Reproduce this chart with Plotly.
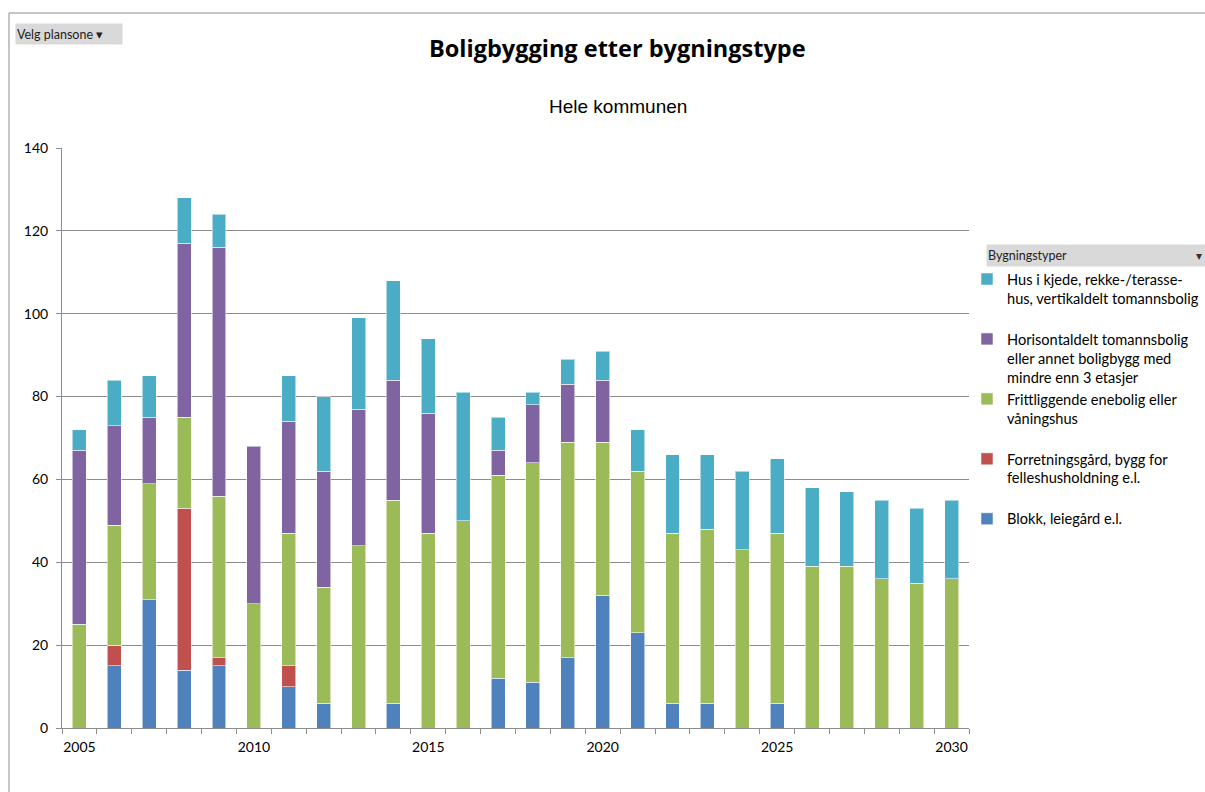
import plotly.graph_objects as go

# ---------------- data ----------------
years = list(range(2005, 2031))
blokk = [0, 15, 31, 14, 15, 0, 10, 6, 0, 6, 0, 0, 12, 11, 17, 32, 23, 6, 6, 0, 6, 0, 0, 0, 0, 0]
forretning = [0, 5, 0, 39, 2, 0, 5, 0, 0, 0, 0, 0, 0, 0, 0, 0, 0, 0, 0, 0, 0, 0, 0, 0, 0, 0]
frittliggende = [25, 29, 28, 22, 39, 30, 32, 28, 44, 49, 47, 50, 49, 53, 52, 37, 39, 41, 42, 43, 41, 39, 39, 36, 35, 36]
horisontal = [42, 24, 16, 42, 60, 38, 27, 28, 33, 29, 29, 0, 6, 14, 14, 15, 0, 0, 0, 0, 0, 0, 0, 0, 0, 0]
rekkehus = [5, 11, 10, 11, 8, 0, 11, 18, 22, 24, 18, 31, 8, 3, 6, 7, 10, 19, 18, 19, 18, 19, 18, 19, 18, 19]

series_names = [
    "Blokk, leiegård e.l.",
    "Forretningsgård, bygg for<br>felleshusholdning e.l.<br>\u00a0",
    "Frittliggende enebolig eller<br>våningshus<br>\u00a0",
    "Horisontaldelt tomannsbolig<br>eller annet boligbygg med<br>mindre enn 3 etasjer",
    "Hus i kjede, rekke-/terasse-<br>hus, vertikaldelt tomannsbolig<br>\u00a0",
]
series_values = [blokk, forretning, frittliggende, horisontal, rekkehus]
series_colors = ["#4F81BD", "#C0504D", "#9BBB59", "#8064A2", "#4BACC6"]
tick_years = [2005, 2010, 2015, 2020, 2025, 2030]

# ---------------- geometry helpers (pixel -> paper) ----------------
W, H = 1205, 792
L, R, T, B = 62, 969, 148, 728


def px(x):
    return (x - L) / (R - L)


def py(y):
    return (B - y) / (B - T)


FONT = "Lato"

fig = go.Figure()
for name, vals, col in zip(series_names, series_values, series_colors):
    fig.add_trace(go.Bar(
        x=years,
        y=[v if v else None for v in vals],
        name=name,
        marker=dict(color=col, line=dict(color="rgba(255,255,255,0.55)", width=1)),
    ))

fig.update_layout(
    width=W, height=H, autosize=False,
    margin=dict(l=L, r=W - R, t=T, b=H - B, autoexpand=False),
    paper_bgcolor="white", plot_bgcolor="white",
    barmode="stack", bargap=0.6,
    font=dict(family=FONT, size=13, color="#000"),
    showlegend=True,
    legend=dict(
        traceorder="reversed",
        x=px(967), y=py(263), xanchor="left", yanchor="top",
        font=dict(family=FONT, size=14.6, color="#000"),
        valign="top", itemclick=False, itemdoubleclick=False,
        tracegroupgap=0, bgcolor="rgba(0,0,0,0)",
    ),
    xaxis=dict(
        range=[2004.5, 2030.5],
        tickmode="array", tickvals=tick_years, ticktext=[str(y) for y in tick_years],
        ticks="", showgrid=False, zeroline=False,
        showline=True, linecolor="#8c8c8c", linewidth=1,
        minor=dict(tick0=2004.5, dtick=1, ticks="outside", ticklen=5,
                   tickcolor="#8c8c8c", showgrid=False),
        ticklabelstandoff=6,
        tickfont=dict(family=FONT, size=14, color="#000"),
        fixedrange=True,
    ),
    yaxis=dict(
        range=[0, 140], dtick=20, tick0=0,
        showgrid=True, gridcolor="#8c8c8c", gridwidth=1,
        zeroline=False, showline=True, linecolor="#8c8c8c", linewidth=1,
        ticks="outside", ticklen=5, tickcolor="#8c8c8c",
        ticklabelstandoff=5,
        tickfont=dict(family=FONT, size=14, color="#000"),
        fixedrange=True,
    ),
)

annotations = [
    dict(text="<b>Boligbygging etter bygningstype</b>", x=px(617), y=py(48),
         xref="paper", yref="paper", xanchor="center", yanchor="middle",
         showarrow=False, font=dict(family="Open Sans", size=23.5, color="#000")),
    dict(text="Hele kommunen", x=px(618), y=py(107),
         xref="paper", yref="paper", xanchor="center", yanchor="middle",
         showarrow=False, font=dict(family="Liberation Sans", size=19, color="#000")),
    dict(text="Velg plansone \u25be", x=px(15), y=py(23),
         xref="paper", yref="paper", xanchor="left", yanchor="top",
         width=104, height=18, align="left", bgcolor="#d9d9d9", borderpad=1,
         showarrow=False, font=dict(family=FONT, size=12.5, color="#222")),
    dict(text="Bygningstyper", x=px(986), y=py(244),
         xref="paper", yref="paper", xanchor="left", yanchor="top",
         width=230, height=19, align="left", bgcolor="#d9d9d9", borderpad=1,
         showarrow=False, font=dict(family=FONT, size=12.5, color="#222")),
    dict(text="\u25be", x=px(1199), y=py(255),
         xref="paper", yref="paper", xanchor="center", yanchor="middle",
         showarrow=False, font=dict(family=FONT, size=12, color="#333")),
]
fig.update_layout(annotations=annotations)

shapes = [
    dict(type="line", xref="paper", yref="paper", x0=px(9), x1=px(1210), y0=py(13), y1=py(13),
         line=dict(color="#8c8c8c", width=1)),
    dict(type="line", xref="paper", yref="paper", x0=px(9), x1=px(9), y0=py(13), y1=py(800),
         line=dict(color="#8c8c8c", width=1)),
]
fig.update_layout(shapes=shapes)

fig.write_html(
    "out.html",
    config={"displayModeBar": False, "responsive": False},
    post_script="document.body.style.margin='0';document.documentElement.style.overflow='hidden';document.body.style.overflow='hidden';",
)
